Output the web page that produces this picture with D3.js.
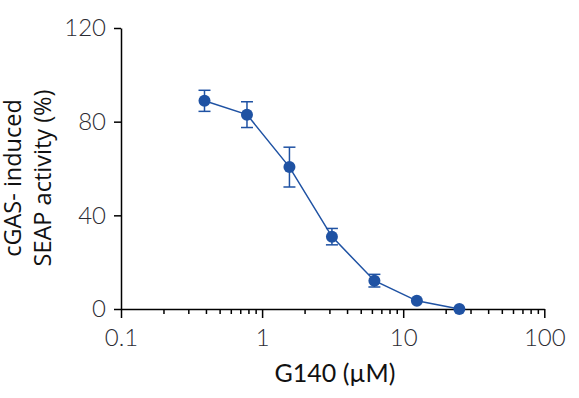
<!DOCTYPE html>
<html>
<head>
<meta charset="utf-8">
<script src="https://cdn.jsdelivr.net/npm/d3@7"></script>
<style>
  body { margin: 0; background: #fff; }
  .tick text { font-family: Lato, sans-serif; font-weight: 300; }
</style>
</head>
<body>
<script>
// G140 concentration (uM), 2-fold dilution series
var conc = [0.390625, 0.78125, 1.5625, 3.125, 6.25, 12.5, 25];
// cGAS-induced SEAP activity (%)
var activity = [88.9, 83.0, 60.6, 30.9, 12.1, 3.5, 0];
// error bar half-widths
var errs = [4.5, 5.5, 8.5, 3.5, 2.7, 0, 0];

var xTicks = [0.1, 1, 10, 100];
var yTicks = [0, 40, 80, 120];

var svg_w = 579, svg_h = 398;
var svg = d3.select("body").append("svg")
  .attr("width", svg_w)
  .attr("height", svg_h);

var x = d3.scaleLog().domain([0.1, 100]).range([121, 544.3]);
var y = d3.scaleLinear().domain([0, 120]).range([309, 28]);

var color = "#1f52a3";

// minor ticks on the log axis
var minor = [];
for (var d = 0.1; d < 100; d *= 10) {
  for (var k = 2; k <= 9; k++) minor.push(d * k);
}

var xAxis = svg.append("g")
  .attr("transform", "translate(0," + y(0) + ")");

xAxis.call(d3.axisBottom(x).tickValues(minor).tickSize(5).tickFormat(""))
xAxis.select(".domain").remove();

var xMajor = svg.append("g")
  .attr("transform", "translate(0," + y(0) + ")")
  .call(d3.axisBottom(x).tickValues(xTicks).tickSize(9).tickSizeOuter(0)
    .tickFormat(function(v) { return String(v); }));

xMajor.selectAll(".tick text")
  .attr("y", 20)
  .attr("dy", "0.71em")
  .style("font-size", "24px")
  .attr("fill", "#2b2b33");

var yAxis = svg.append("g")
  .attr("transform", "translate(" + x(0.1) + ",0)")
  .call(d3.axisLeft(y).tickValues(yTicks).tickSize(7).tickSizeOuter(0));

yAxis.selectAll(".tick text")
  .attr("x", -15)
  .style("font-size", "24px")
  .attr("fill", "#2b2b33");

svg.selectAll(".domain, .tick line")
  .attr("stroke", "#000")
  .attr("stroke-width", 1.5);

// axis titles
svg.append("text")
  .attr("x", 335)
  .attr("y", 382)
  .attr("text-anchor", "middle")
  .style("font-family", "Lato, sans-serif")
  .style("font-size", "25px")
  .attr("fill", "#111")
  .text("G140 (\u00b5M)");

var yTitle = svg.append("text")
  .attr("transform", "translate(0,178) rotate(-90)")
  .attr("text-anchor", "middle")
  .style("font-family", "'Open Sans', sans-serif")
  .style("font-size", "23.5px")
  .attr("fill", "#111");
yTitle.append("tspan").attr("x", 0).attr("y", 21).text("cGAS- induced");
yTitle.append("tspan").attr("x", 0).attr("y", 51).text("SEAP activity (%)");

var pts = conc.map(function(c, i) {
  return { c: c, v: activity[i], e: errs[i] };
});

// connecting line
var line = d3.line()
  .x(function(d) { return x(d.c); })
  .y(function(d) { return y(d.v); });

svg.append("path")
  .datum(pts)
  .attr("d", line)
  .attr("fill", "none")
  .attr("stroke", color)
  .attr("stroke-width", 1.5);

// error bars
var eb = svg.append("g")
  .selectAll("g")
  .data(pts.filter(function(d) { return d.e > 0; }))
  .enter()
  .append("g")
  .attr("stroke", color)
  .attr("stroke-width", 1.5);

eb.append("line")
  .attr("x1", function(d) { return x(d.c); })
  .attr("x2", function(d) { return x(d.c); })
  .attr("y1", function(d) { return y(d.v + d.e); })
  .attr("y2", function(d) { return y(d.v - d.e); });

eb.selectAll(".cap")
  .data(function(d) { return [[d, d.v + d.e], [d, d.v - d.e]]; })
  .enter()
  .append("line")
  .attr("x1", function(p) { return x(p[0].c) - 6; })
  .attr("x2", function(p) { return x(p[0].c) + 6; })
  .attr("y1", function(p) { return y(p[1]); })
  .attr("y2", function(p) { return y(p[1]); });

// markers
svg.append("g")
  .selectAll("circle")
  .data(pts)
  .enter()
  .append("circle")
  .attr("cx", function(d) { return x(d.c); })
  .attr("cy", function(d) { return y(d.v); })
  .attr("r", 6)
  .attr("fill", color);
</script>
</body>
</html>
